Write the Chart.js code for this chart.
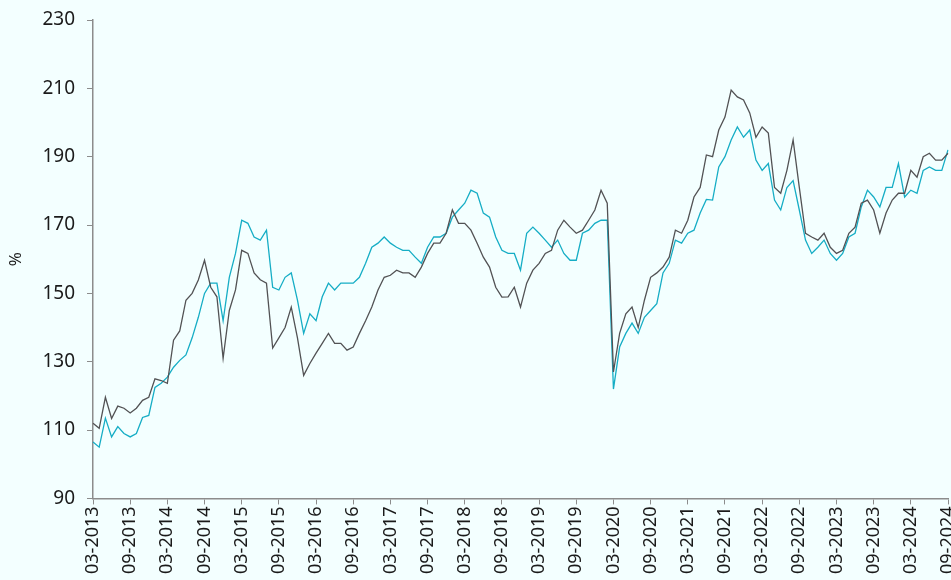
<!DOCTYPE html>
<html>
<head>
<meta charset="utf-8">
<script src="https://cdn.jsdelivr.net/npm/chart.js@4.4.1/dist/chart.umd.min.js"></script>
<style>
    html, body { margin: 0; padding: 0; background: #f3ffff; }
    #chart { display: block; }
</style>
</head>
<body>
<canvas id="chart" width="951" height="580"></canvas>
<script>
// Monthly points, 03-2013 .. 09-2024
const months = [];
for (let y = 2013; y <= 2024; y++) {
    for (let m = 1; m <= 12; m++) {
        if (y === 2013 && m < 3) continue;
        if (y === 2024 && m > 9) break;
        months.push(String(m).padStart(2, '0') + '-' + y);
    }
}

const grayValues = [
    112, 110.5, 119.6, 113.4, 117, 116.4, 115, 116.4, 118.7, 119.6, 125, 124.5,
    123.7, 136.3, 139, 148, 150, 153.9, 159.7, 151.8, 149, 131, 145, 151,
    162.6, 161.7, 156, 154, 153, 134, 137, 140, 146, 137, 126, 129.5,
    132.5, 135.4, 138.3, 135.4, 135.4, 133.4, 134.3, 138.3, 142, 146, 151, 154.7,
    155.3, 156.8, 156, 156, 154.7, 157.7, 161.7, 164.7, 164.7, 167.6, 174.4, 170.5,
    170.5, 168.5, 164.7, 160.6, 157.7, 151.8, 148.9, 149, 151.8, 146, 153, 156.8,
    158.8, 161.7, 162.6, 168.5, 171.4, 169.4, 167.6, 168.5, 171.4, 174.4, 180.2, 176.4,
    127, 138.3, 144, 146, 140, 148, 154.7, 156, 157.7, 160.6, 168.5, 167.6,
    171.4, 178.2, 181, 190.5, 190, 197.8, 201.6, 209.5, 207.5, 206.6, 202.8, 195.7,
    198.7, 196.9, 181, 179.3, 186, 194.9, 181, 167.6, 166.5, 165.6, 167.6, 163.5,
    161.7, 162.6, 167.6, 169.4, 176.4, 177.3, 174.4, 167.6, 173.5, 177.3, 179.3, 179.3,
    186, 184, 190, 191, 189, 189, 191
];

const tealValues = [
    106.5, 105, 113.5, 108, 111, 109, 108, 109, 113.7, 114.3, 122.5, 123.7,
    125.5, 128.4, 130.4, 132, 137, 143, 150, 153, 153, 142, 154.7, 161.7,
    171.4, 170.5, 166.5, 165.6, 168.5, 151.8, 151, 154.7, 156, 148, 138.3, 144,
    142, 149, 153, 151, 153, 153, 153, 154.7, 158.8, 163.5, 164.7, 166.5,
    164.7, 163.5, 162.6, 162.6, 160.6, 158.8, 163.5, 166.5, 166.5, 167.6, 172.3, 174.4,
    176.4, 180.2, 179.3, 173.5, 172.3, 166.5, 162.6, 161.7, 161.7, 156.8, 167.6, 169.4,
    167.6, 165.6, 163.5, 165.6, 161.7, 159.7, 159.7, 167.6, 168.5, 170.5, 171.4, 171.4,
    122, 134.3, 138.3, 141.3, 138.3, 143, 145, 147, 156, 158.8, 165.6, 164.7,
    167.6, 168.5, 173.5, 177.5, 177.3, 187, 190, 194.9, 198.7, 195.7, 197.8, 189,
    186, 188, 177.3, 174.4, 181, 183, 174.4, 165.6, 161.7, 163.5, 165.6, 161.7,
    159.7, 161.7, 166.5, 167.6, 175.3, 180.2, 178.2, 175.3, 181, 181, 188, 178.2,
    180.2, 179.3, 186, 187, 186, 186, 192
];

const yMin = 90;
const yMax = 230;
const yStep = 20;
const yTitle = '%';

const axisColor = '#8c8c8c';
const textColor = '#1a1a1a';
const fontFamily = "'Noto Sans', 'Open Sans', sans-serif";

const bgPlugin = {
    id: 'bg',
    beforeDraw(chart) {
        const ctx = chart.ctx;
        ctx.save();
        ctx.fillStyle = '#f3ffff';
        ctx.fillRect(0, 0, chart.width, chart.height);
        ctx.restore();
    }
};

new Chart(document.getElementById('chart').getContext('2d'), {
    type: 'line',
    data: {
        labels: months,
        datasets: [{
            label: 'Series 1',
            data: grayValues,
            borderColor: '#525254',
            borderWidth: 1.3,
            pointRadius: 0,
            tension: 0
        }, {
            label: 'Series 2',
            data: tealValues,
            borderColor: '#15adc5',
            borderWidth: 1.3,
            pointRadius: 0,
            tension: 0
        }]
    },
    options: {
        responsive: false,
        animation: false,
        layout: { padding: { left: 6, right: 3, top: 20, bottom: 4 } },
        plugins: {
            legend: { display: false },
            tooltip: { enabled: false }
        },
        scales: {
            x: {
                offset: false,
                afterFit: function(scale) {
                    // let the last rotated label run off the edge like the original
                    scale.paddingRight = 0;
                },
                grid: {
                    drawOnChartArea: false,
                    color: axisColor,
                    tickLength: 6
                },
                border: { color: axisColor, width: 1.5 },
                ticks: {
                    autoSkip: false,
                    maxRotation: 90,
                    minRotation: 90,
                    color: textColor,
                    font: { family: fontFamily, size: 18 },
                    padding: 2,
                    callback: function(val, i) {
                        return i % 6 === 0 ? months[i] : null;
                    }
                }
            },
            y: {
                min: yMin,
                max: yMax,
                afterFit: function(scale) {
                    scale.paddingTop = 0;
                },
                grid: {
                    drawOnChartArea: false,
                    color: axisColor,
                    tickLength: 6
                },
                border: { color: axisColor, width: 1.5 },
                title: {
                    display: true,
                    text: yTitle,
                    color: textColor,
                    font: { family: fontFamily, size: 17 },
                    padding: { top: 0, bottom: 4 }
                },
                ticks: {
                    stepSize: yStep,
                    color: textColor,
                    font: { family: fontFamily, size: 19 },
                    padding: 12
                }
            }
        }
    },
    plugins: [bgPlugin]
});
</script>
</body>
</html>
